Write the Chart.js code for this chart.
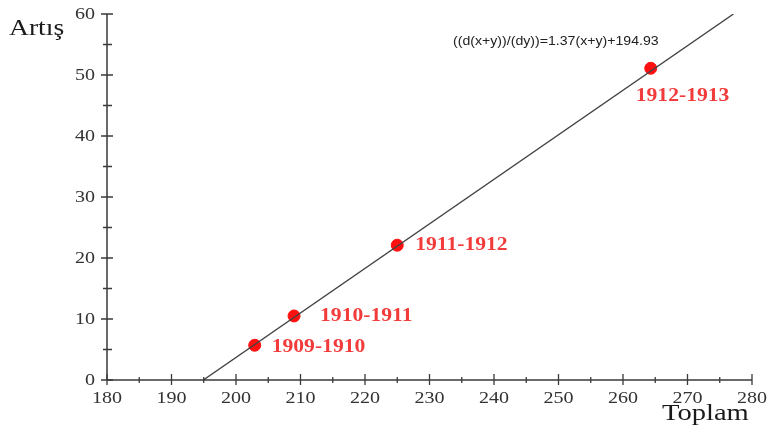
<!DOCTYPE html>
<html>
<head>
<meta charset="utf-8">
<script src="https://cdn.jsdelivr.net/npm/chart.js@4"></script>
<style>
  html, body { margin: 0; padding: 0; background: #fff; }
  #wrap { width: 768px; height: 427px; position: relative; }
</style>
</head>
<body>
<div id="wrap"><canvas id="c"></canvas></div>
<script>
// Yearly periods with their total (Toplam) and increase (Artış)
const periods = ['1909-1910', '1910-1911', '1911-1912', '1912-1913'];
const totals = [202.9, 209.0, 225.0, 264.3];
const increases = [5.7, 10.5, 22.1, 51.1];

// Fitted line: Toplam = 1.37 * Artış + 194.93
const fitSlope = 1.37;
const fitIntercept = 194.93;
const fitRange = [0, 60];

// Axis ticks
const xTicks = [180, 190, 200, 210, 220, 230, 240, 250, 260, 270, 280];
const yTicks = [0, 10, 20, 30, 40, 50, 60];

const serif = '"Liberation Serif", "Times New Roman", serif';
const axisColor = '#3a3a3a';
const red = '#ff1010';
const stretch = 1.18; // wide lettering

const fitPoints = fitRange.map(y => ({ x: fitSlope * y + fitIntercept, y }));
const pointData = totals.map((x, i) => ({ x, y: increases[i] }));

// label offsets next to each point (px)
const labelOffsets = [
  { dx: 17, dy: 2 },
  { dx: 26, dy: 0 },
  { dx: 18, dy: 0 },
  { dx: -15, dy: 28 }
];

// draws text widened horizontally, anchored at (x, y)
function wideText(ctx, text, x, y, align, k) {
  ctx.save();
  ctx.translate(x, y);
  ctx.scale(k, 1);
  ctx.textAlign = align;
  ctx.fillText(text, 0, 0);
  ctx.restore();
}

const axisDecor = {
  id: 'axisDecor',
  afterDraw(chart) {
    const ctx = chart.ctx;
    const xs = chart.scales.x, ys = chart.scales.y;
    const x0 = xs.getPixelForValue(180), x1 = xs.getPixelForValue(280);
    const y0 = ys.getPixelForValue(0), y1 = ys.getPixelForValue(60);
    ctx.save();
    ctx.strokeStyle = axisColor;
    ctx.lineWidth = 1.5;
    ctx.beginPath();
    ctx.moveTo(x0, y0); ctx.lineTo(x1, y0);
    ctx.moveTo(x0, y0); ctx.lineTo(x0, y1);
    ctx.stroke();
    // tick marks crossing the axes, major every 10, minor every 5
    ctx.lineWidth = 1.3;
    ctx.beginPath();
    for (let v = 180; v <= 280; v += 5) {
      const px = xs.getPixelForValue(v);
      const major = v % 10 === 0;
      ctx.moveTo(px, y0 - (major ? 6 : 3));
      ctx.lineTo(px, y0 + (major ? 5 : 3));
    }
    for (let v = 0; v <= 60; v += 5) {
      const py = ys.getPixelForValue(v);
      const major = v % 10 === 0;
      ctx.moveTo(x0 - (major ? 6 : 4), py);
      ctx.lineTo(x0 + (major ? 6 : 5), py);
    }
    ctx.stroke();

    // tick labels
    ctx.fillStyle = '#333';
    ctx.font = '17px ' + serif;
    ctx.textBaseline = 'middle';
    xTicks.forEach(v => wideText(ctx, String(v), xs.getPixelForValue(v), y0 + 19, 'center', stretch));
    yTicks.forEach(v => wideText(ctx, String(v), x0 - 12, ys.getPixelForValue(v) + 1, 'right', stretch));

    // axis names
    ctx.fillStyle = '#1a1a1a';
    ctx.font = '24px ' + serif;
    wideText(ctx, 'Artış', 9, 29, 'left', 1.15);
    wideText(ctx, 'Toplam', 662, 414, 'left', 1.19);

    // equation of the fitted line
    ctx.font = '12.5px "Liberation Sans", Arial, sans-serif';
    ctx.fillStyle = '#222';
    wideText(ctx, '((d(x+y))/(dy))=1.37(x+y)+194.93', 453, 42, 'left', 1.13);

    // period labels
    const meta = chart.getDatasetMeta(1);
    ctx.font = 'bold 18px ' + serif;
    ctx.fillStyle = '#f23b3b';
    meta.data.forEach((pt, i) => {
      const o = labelOffsets[i];
      wideText(ctx, periods[i], pt.x + o.dx, pt.y + o.dy, 'left', 1.2);
    });
    ctx.restore();
  }
};

new Chart(document.getElementById('c'), {
  type: 'scatter',
  data: {
    datasets: [
      {
        type: 'line',
        data: fitPoints,
        borderColor: '#444',
        borderWidth: 1.4,
        pointRadius: 0,
        fill: false
      },
      {
        data: pointData,
        backgroundColor: red,
        borderColor: red,
        pointRadius: 6,
        pointHoverRadius: 6
      }
    ]
  },
  options: {
    responsive: true,
    maintainAspectRatio: false,
    animation: false,
    events: [],
    layout: { padding: { left: 0, right: 16, top: 14, bottom: 0 } },
    plugins: { legend: { display: false }, tooltip: { enabled: false } },
    scales: {
      x: {
        type: 'linear',
        min: 180, max: 280,
        afterBuildTicks: s => { s.ticks = xTicks.map(v => ({ value: v })); },
        afterFit: s => { s.height = 47; },
        grid: { display: false, drawTicks: false },
        border: { display: false },
        ticks: { display: false }
      },
      y: {
        type: 'linear',
        min: 0, max: 60,
        afterBuildTicks: s => { s.ticks = yTicks.map(v => ({ value: v })); },
        afterFit: s => { s.width = 107; },
        grid: { display: false, drawTicks: false },
        border: { display: false },
        ticks: { display: false }
      }
    }
  },
  plugins: [axisDecor]
});
</script>
</body>
</html>
